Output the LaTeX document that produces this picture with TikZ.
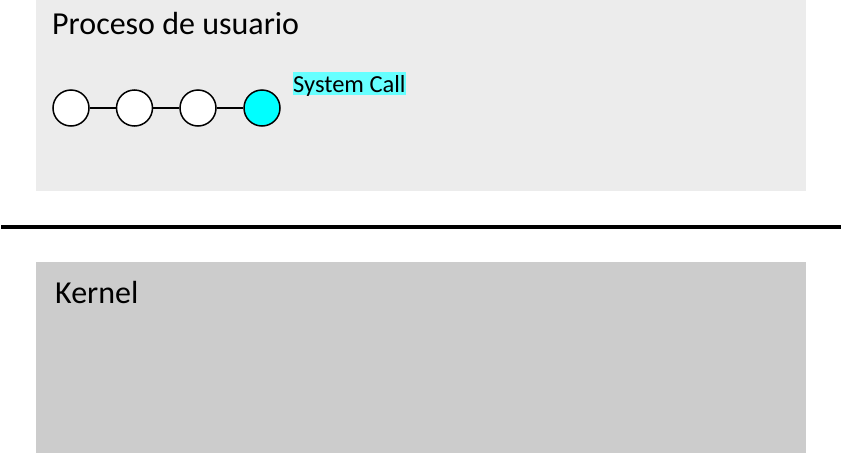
\documentclass[tikz,border=0pt]{standalone}
\usepackage{fontspec}
\setmainfont{Carlito}
\usetikzlibrary{shapes,arrows}

\definecolor{gris1}{HTML}{ECECEC}
\definecolor{gris2}{HTML}{CCCCCC}
\definecolor{cian}{HTML}{00FFFF}
\definecolor{cianclair}{HTML}{66FFFF}

\begin{document}
\begin{tikzpicture}[x=1pt,y=-1pt]
	\tikzstyle{zona}=[rectangle,draw=none,minimum width=770pt,inner sep=0pt]
	\tikzstyle{titre}=[anchor=base west,inner sep=0pt,font=\fontsize{32}{36}\selectfont]
	\tikzstyle{etape}=[circle,draw=black,line width=1.5pt,fill=white,minimum size=36pt,inner sep=0pt]
	\tikzstyle{lien}=[line width=1.5pt]

	\useasboundingbox (0,0) rectangle (843,453);

	\node[zona,fill=gris1,minimum height=191pt] (user) at (421,95.5) {};
	\node[zona,fill=gris2,minimum height=191pt] (kernel) at (421,357.5) {};

	\node[titre] (tuser) at (52,34) {Proceso de usuario};
	\node[titre] (tkernel) at (55,303) {Kernel};

	\node[etape] (e1) at (71,108) {};
	\node[etape] (e2) at (134.5,108) {};
	\node[etape] (e3) at (198,108) {};
	\node[etape,fill=cian] (e4) at (262,108) {};

	\node[anchor=base west,fill=cianclair,inner sep=0pt,text height=20pt,text depth=3pt,
	font=\fontsize{24.5}{28}\selectfont] (call) at (293,92) {System Call};

	\draw[lien] (e1) -- (e2);
	\draw[lien] (e2) -- (e3);
	\draw[lien] (e3) -- (e4);

	\coordinate (g) at (1,227);
	\coordinate (d) at (841,227);
	\draw[line width=3.5pt] (g) -- (d);
\end{tikzpicture}
\end{document}
